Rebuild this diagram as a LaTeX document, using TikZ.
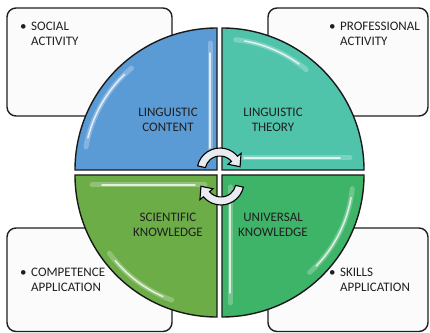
\documentclass[tikz,border=0pt]{standalone}
\usepackage{fontspec}
\setmainfont{Carlito}
\definecolor{qblue}{RGB}{91,155,213}
\definecolor{qteal}{RGB}{80,196,171}
\definecolor{qgreenA}{RGB}{108,173,72}
\definecolor{qgreenB}{RGB}{62,180,104}
\definecolor{boxfill}{RGB}{251,251,251}
\definecolor{cycfill}{RGB}{232,236,240}
\begin{document}
\begin{tikzpicture}[x=1bp,y=1bp,
  infobox/.style={draw=black!88, line width=1.4bp, rounded corners=9bp, fill=boxfill, inner sep=0pt},
  sector/.style={draw=black!90, line width=1.4bp},
  glosswide/.style={draw=white, opacity=0.25, line width=5bp, line cap=round},
  gloss/.style={draw=white, opacity=0.75, line width=1.6bp, line cap=round},
  lab/.style={font=\fontsize{13bp}{15bp}\selectfont, text=black!88, align=center, inner sep=0pt},
  itemtxt/.style={font=\fontsize{13bp}{15bp}\selectfont, text=black!88, align=left, anchor=north west, inner sep=0pt},
  cyc/.style={draw=black, line width=1.1bp, fill=cycfill}
]
\useasboundingbox (0,0) rectangle (430,333);

% outer boxes
\node[infobox, minimum width=165bp, minimum height=108bp] (boxTL) at (89.5,271) {};
\node[infobox, minimum width=160bp, minimum height=108bp] (boxTR) at (348,271) {};
\node[infobox, minimum width=165bp, minimum height=103.5bp] (boxBL) at (89.5,53.25) {};
\node[infobox, minimum width=160bp, minimum height=103.5bp] (boxBR) at (348,53.25) {};

\node[itemtxt] (tSocial) at (20,311) {\makebox[11bp][l]{•}SOCIAL\\\hspace*{11bp}ACTIVITY};
\node[itemtxt] (tProf) at (329,311) {\makebox[11bp][l]{•}PROFESSIONAL\\\hspace*{11bp}ACTIVITY};
\node[itemtxt] (tComp) at (20,65) {\makebox[11bp][l]{•}COMPETENCE\\\hspace*{11bp}APPLICATION};

% sectors
\fill[qblue] (217,163) -- (75,163) arc[start angle=180,end angle=90,radius=142] -- cycle;
\fill[qteal] (222,163) -- (222,305) arc[start angle=90,end angle=0,radius=142] -- cycle;
\fill[qgreenA] (217,158) -- (217,16) arc[start angle=270,end angle=180,radius=142] -- cycle;
\fill[qgreenB] (222,158) -- (364,158) arc[start angle=0,end angle=-90,radius=142] -- cycle;

% gloss highlights (soft halo)
\draw[glosswide] (210,290) -- (210,175);
\draw[glosswide] (217,163) ++(170:133) arc[start angle=170,end angle=130,radius=133];
\draw[glosswide] (222,163) ++(84:131) arc[start angle=84,end angle=50,radius=131];
\draw[glosswide] (234,175) -- (350,175);
\draw[glosswide] (92,148) -- (205,148);
\draw[glosswide] (217,158) ++(216:133) arc[start angle=216,end angle=250,radius=133];
\draw[glosswide] (230,146) -- (230,30);
\draw[glosswide] (222,158) ++(-6:131) arc[start angle=-6,end angle=-48,radius=131];
% gloss highlights (bright core)
\draw[gloss] (210,280) -- (210,185);
\draw[gloss] (217,163) ++(166:133) arc[start angle=166,end angle=134,radius=133];
\draw[gloss] (222,163) ++(80:131) arc[start angle=80,end angle=54,radius=131];
\draw[gloss] (244,175) -- (340,175);
\draw[gloss] (102,148) -- (195,148);
\draw[gloss] (217,158) ++(220:133) arc[start angle=220,end angle=246,radius=133];
\draw[gloss] (230,136) -- (230,40);
\draw[gloss] (222,158) ++(-10:131) arc[start angle=-10,end angle=-44,radius=131];

% sector outlines
\draw[sector] (217,163) -- (75,163) arc[start angle=180,end angle=90,radius=142] -- cycle;
\draw[sector] (222,163) -- (222,305) arc[start angle=90,end angle=0,radius=142] -- cycle;
\draw[sector] (217,158) -- (217,16) arc[start angle=270,end angle=180,radius=142] -- cycle;
\draw[sector] (222,158) -- (364,158) arc[start angle=0,end angle=-90,radius=142] -- cycle;

\node[itemtxt] (tSkills) at (329,65) {\makebox[11bp][l]{•}SKILLS\\\hspace*{11bp}APPLICATION};

% labels
\node[lab] (lContent) at (168,213) {LINGUISTIC\\CONTENT};
\node[lab] (lTheory) at (273,213) {LINGUISTIC\\THEORY};
\node[lab] (lScient) at (168,108) {SCIENTIFIC\\KNOWLEDGE};
\node[lab] (lUniv) at (273,108) {UNIVERSAL\\KNOWLEDGE};

% cycle arrows
\begin{scope}[shift={(220,162)}]
\draw[cyc] (167:23) arc[start angle=167,end angle=40,radius=23] -- (40:27.5) -- (12:20.5) -- (40:10.5) -- (40:15) arc[start angle=40,end angle=167,radius=15] -- cycle;
\end{scope}
\begin{scope}[shift={(221,151)}]
\draw[cyc] (347:23) arc[start angle=347,end angle=220,radius=23] -- (220:27.5) -- (192:20.5) -- (220:10.5) -- (220:15) arc[start angle=220,end angle=347,radius=15] -- cycle;
\end{scope}
\end{tikzpicture}
\end{document}
